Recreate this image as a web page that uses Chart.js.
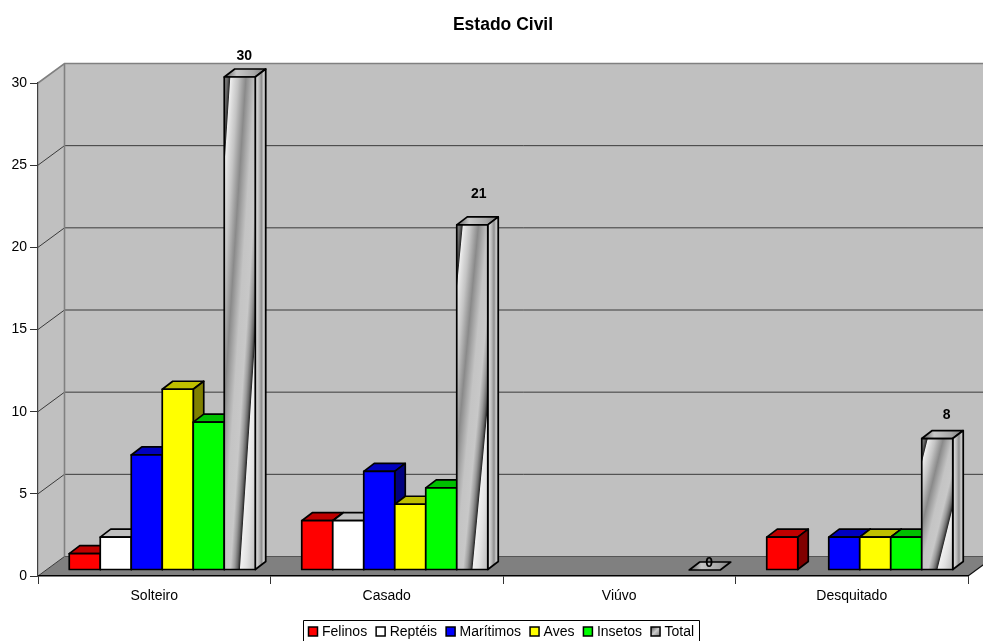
<!DOCTYPE html>
<html>
<head>
<meta charset="utf-8">
<title>Estado Civil</title>
<script src="https://cdn.jsdelivr.net/npm/chart.js@4"></script>
<style>
  html, body { margin: 0; padding: 0; background: #fff; overflow: hidden; }
  canvas { display: block; }
</style>
</head>
<body>
<canvas id="estadoChart" width="983" height="641"></canvas>
<script>
    const categories = ['Solteiro', 'Casado', 'Viúvo', 'Desquitado'];
    const felinos = [1, 3, null, 2];
    const repteis = [2, 3, null, null];
    const maritimos = [7, 6, null, 2];
    const aves = [11, 4, null, 2];
    const insetos = [9, 5, null, 2];
    const total = [30, 21, 0, 8];

    const seriesNames = ['Felinos', 'Reptéis', 'Marítimos', 'Aves', 'Insetos', 'Total'];
    const seriesValues = [felinos, repteis, maritimos, aves, insetos, total];
    const seriesColors = ['#ff0000', '#ffffff', '#0000ff', '#ffff00', '#00ff00', '#c0c0c0'];

    // rótulos do Total: deslocamento em relação ao topo da barra
    const totalLabelDx = [4.5, 6.5, 4.5, 9.5];
    const totalLabelLift = [21, 31, 7, 23.5];

    const FONT = '"Liberation Sans", Arial, sans-serif';
    const WALL = { dx: 26.5, dy: -19.5 };   // profundidade do fundo
    const BAR_SHIFT = { dx: 8, dy: -6 };    // barras ficam no meio do piso
    const BAR_DEPTH = { dx: 10.5, dy: -8 };

    const metalStops = [
        [-1.05, '#8a8a8a'], [-0.95, '#6a6a6a'], [-0.87, '#2c2c2c'], [-0.84, '#eeeeee'],
        [-0.75, '#dcdcdc'], [-0.6, '#c4c4c4'], [-0.35, '#8a8a8a'], [-0.2, '#a8a8a8'],
        [-0.05, '#c4c4c4'], [0.2, '#c8c8c8'], [0.33, '#9a9a9a'], [0.42, '#6a6a6a'],
        [0.49, '#2a2a2a'], [0.52, '#f0f0f0'], [0.7, '#e2e2e2'], [0.85, '#cfcfcf'], [1, '#bdbdbd']
    ];
    const metalSideStops = [
        [0, '#e8e8e8'], [0.35, '#bbbbbb'], [0.6, '#8e8e8e'], [0.8, '#cccccc'], [1, '#a0a0a0']
    ];

    function shade(hex, f) {
        const n = parseInt(hex.slice(1), 16);
        const c = [n >> 16, (n >> 8) & 255, n & 255].map(v => Math.round(v * f));
        return `rgb(${c[0]},${c[1]},${c[2]})`;
    }

    function poly(ctx, pts) {
        ctx.beginPath();
        pts.forEach((p, i) => i ? ctx.lineTo(p[0], p[1]) : ctx.moveTo(p[0], p[1]));
        ctx.closePath();
    }

    // textura metálica: faixas esticadas na altura da barra, daí a inclinação variar
    function fillMetal(ctx, left, w, bottom, h) {
        if (h <= 0) return;
        const s = 1.05 * w / h;
        const x0 = left - 1.05 * w;
        const x1 = left + w;
        ctx.save();
        ctx.clip();
        ctx.transform(1, 0, -s, 1, s * bottom, 0);
        const g = ctx.createLinearGradient(x0, 0, x1, 0);
        metalStops.forEach(st => g.addColorStop((st[0] + 1.05) / 2.05, st[1]));
        ctx.fillStyle = g;
        ctx.fillRect(left - 3 * w, bottom - h - 30, 6 * w, h + 60);
        ctx.restore();
    }

    function metalSide(ctx, x0, x1) {
        const g = ctx.createLinearGradient(x0, 0, x1, 0);
        metalSideStops.forEach(st => g.addColorStop(st[0], st[1]));
        return g;
    }

    function metalTop(ctx, x0, x1) {
        const g = ctx.createLinearGradient(x0, 0, x1, 0);
        g.addColorStop(0, '#5c5c5c');
        g.addColorStop(0.3, '#c8c8c8');
        g.addColorStop(0.7, '#a8a8a8');
        g.addColorStop(1, '#7c7c7c');
        return g;
    }

    // paredes, piso e linhas de grade do fundo
    const wallsPlugin = {
        id: 'walls',
        beforeDraw(chart) {
            const { ctx, chartArea: a, scales: { y } } = chart;
            const bx = a.left + WALL.dx;
            const floorY = a.bottom + WALL.dy;
            const topY = a.top + WALL.dy;
            ctx.save();
            ctx.fillStyle = '#c0c0c0';
            ctx.fillRect(bx, topY, chart.width - bx, floorY - topY);
            poly(ctx, [[a.left, a.top], [bx, topY], [bx, floorY], [a.left, a.bottom]]);
            ctx.fill();
            ctx.fillStyle = '#808080';
            poly(ctx, [[a.left, a.bottom], [bx, floorY], [a.right + WALL.dx, floorY], [a.right, a.bottom]]);
            ctx.fill();

            ctx.lineWidth = 1;
            ctx.strokeStyle = '#3a3a3a';
            y.ticks.forEach((t, i) => {
                if (t.value === y.max) return;
                const py = y.getPixelForTick(i);
                ctx.beginPath();
                ctx.moveTo(a.left, py);
                ctx.lineTo(bx, py + WALL.dy);
                if (t.value !== y.min) ctx.lineTo(chart.width, py + WALL.dy);
                ctx.stroke();
            });
            ctx.strokeStyle = '#808080';
            ctx.lineWidth = 1.6;
            ctx.beginPath();
            ctx.moveTo(a.left, a.top);
            ctx.lineTo(bx, topY);
            ctx.lineTo(chart.width, topY);
            ctx.moveTo(bx, topY);
            ctx.lineTo(bx, floorY);
            ctx.stroke();
            ctx.strokeStyle = '#555555';
            ctx.lineWidth = 1.2;
            ctx.beginPath();
            ctx.moveTo(bx, floorY);
            ctx.lineTo(chart.width, floorY);
            ctx.stroke();
            ctx.strokeStyle = '#111111';
            ctx.lineWidth = 1.2;
            ctx.beginPath();
            ctx.moveTo(a.right, a.bottom);
            ctx.lineTo(a.right + WALL.dx, floorY);
            ctx.stroke();
            ctx.restore();
        }
    };

    // barras em "3D": desenha da esquerda para a direita, cada uma cobrindo a anterior
    const bars3dPlugin = {
        id: 'bars3d',
        beforeDatasetsDraw(chart) {
            const ctx = chart.ctx;
            const metas = seriesNames.map((n, d) => chart.getDatasetMeta(d));
            ctx.save();
            ctx.translate(BAR_SHIFT.dx, BAR_SHIFT.dy);
            ctx.lineJoin = 'round';
            ctx.lineWidth = 1.7;
            ctx.strokeStyle = '#000000';
            categories.forEach((c, i) => {
                metas.forEach((meta, d) => {
                    if (seriesValues[d][i] === null) return;
                    const el = meta.data[i];
                    const l = el.x - el.width / 2;
                    const r = el.x + el.width / 2;
                    const t = el.y;
                    const b = el.base;
                    const isMetal = d === seriesNames.length - 1;
                    const topPts = [[l, t], [l + BAR_DEPTH.dx, t + BAR_DEPTH.dy], [r + BAR_DEPTH.dx, t + BAR_DEPTH.dy], [r, t]];
                    const sidePts = [[r, t], [r + BAR_DEPTH.dx, t + BAR_DEPTH.dy], [r + BAR_DEPTH.dx, b + BAR_DEPTH.dy], [r, b]];

                    poly(ctx, topPts);
                    ctx.fillStyle = isMetal ? metalTop(ctx, l, r + BAR_DEPTH.dx) : shade(seriesColors[d], 0.75);
                    ctx.fill();
                    ctx.stroke();

                    if (b > t) {
                        poly(ctx, sidePts);
                        ctx.fillStyle = isMetal ? metalSide(ctx, r, r + BAR_DEPTH.dx) : shade(seriesColors[d], 0.5);
                        ctx.fill();
                        ctx.stroke();

                        el.draw(ctx);
                        if (isMetal) {
                            ctx.beginPath();
                            ctx.rect(l, t, r - l, b - t);
                            fillMetal(ctx, l, r - l, b, b - t);
                        }
                        ctx.strokeRect(l, t, r - l, b - t);
                    }
                });
            });

            // valores do Total
            const totalMeta = metas[metas.length - 1];
            ctx.fillStyle = '#000000';
            ctx.font = 'bold 14px ' + FONT;
            ctx.textAlign = 'center';
            ctx.textBaseline = 'middle';
            total.forEach((v, i) => {
                const el = totalMeta.data[i];
                ctx.fillText(String(v), el.x + totalLabelDx[i], el.y - totalLabelLift[i]);
            });
            ctx.restore();
            return false;
        }
    };

    // legenda em caixa, centrada sob o gráfico
    const legendBoxPlugin = {
        id: 'legendBox',
        afterDraw(chart) {
            const ctx = chart.ctx;
            ctx.save();
            ctx.font = '14px ' + FONT;
            ctx.textBaseline = 'middle';
            ctx.textAlign = 'left';
            ctx.strokeStyle = '#000000';
            ctx.lineWidth = 1;
            ctx.beginPath();
            ctx.moveTo(303.5, 642);
            ctx.lineTo(303.5, 620.5);
            ctx.lineTo(699.5, 620.5);
            ctx.lineTo(699.5, 642);
            ctx.stroke();
            let x = 308.5;
            seriesNames.forEach((name, d) => {
                if (d === seriesNames.length - 1) {
                    const g = ctx.createLinearGradient(x, 627, x + 9, 636);
                    g.addColorStop(0, '#555555');
                    g.addColorStop(0.5, '#cccccc');
                    g.addColorStop(1, '#777777');
                    ctx.fillStyle = g;
                } else {
                    ctx.fillStyle = seriesColors[d];
                }
                ctx.lineWidth = 1.5;
                ctx.fillRect(x, 627, 9, 9);
                ctx.strokeRect(x, 627, 9, 9);
                ctx.fillStyle = '#000000';
                ctx.fillText(name, x + 13.5, 632);
                x += 13.5 + ctx.measureText(name).width + 9;
            });
            ctx.restore();
        }
    };

    Chart.defaults.font.family = FONT;
    Chart.defaults.font.size = 14;
    Chart.defaults.color = '#000000';

    new Chart(document.getElementById('estadoChart').getContext('2d'), {
        type: 'bar',
        data: {
            labels: categories,
            datasets: seriesNames.map((name, d) => ({
                label: name,
                data: seriesValues[d],
                backgroundColor: seriesColors[d],
                borderWidth: 0,
                barPercentage: 1,
                categoryPercentage: 0.8
            }))
        },
        options: {
            responsive: false,
            animation: false,
            events: [],
            layout: { padding: { right: 15, left: 0, top: 0, bottom: 0 } },
            plugins: {
                legend: { display: false },
                tooltip: { enabled: false },
                title: {
                    display: true,
                    text: 'Estado Civil',
                    fullSize: false,
                    font: { size: 17.5, weight: 'bold', family: FONT },
                    color: '#000000',
                    padding: { top: 15, bottom: 47 }
                }
            },
            scales: {
                x: {
                    grid: { offset: true, drawOnChartArea: false, tickLength: 8, color: '#333333', lineWidth: 1 },
                    border: { color: '#000000', width: 1.5 },
                    ticks: { padding: 4, maxRotation: 0, color: '#000000' },
                    afterFit(s) { s.height = 65; }
                },
                y: {
                    min: 0,
                    max: 30,
                    grid: { drawOnChartArea: false, tickLength: 8, color: '#333333', lineWidth: 1 },
                    border: { color: '#404040', width: 1.2 },
                    ticks: { stepSize: 5, padding: 3, color: '#000000' },
                    afterFit(s) { s.width = 38; }
                }
            }
        },
        plugins: [wallsPlugin, bars3dPlugin, legendBoxPlugin]
    });
</script>
</body>
</html>
